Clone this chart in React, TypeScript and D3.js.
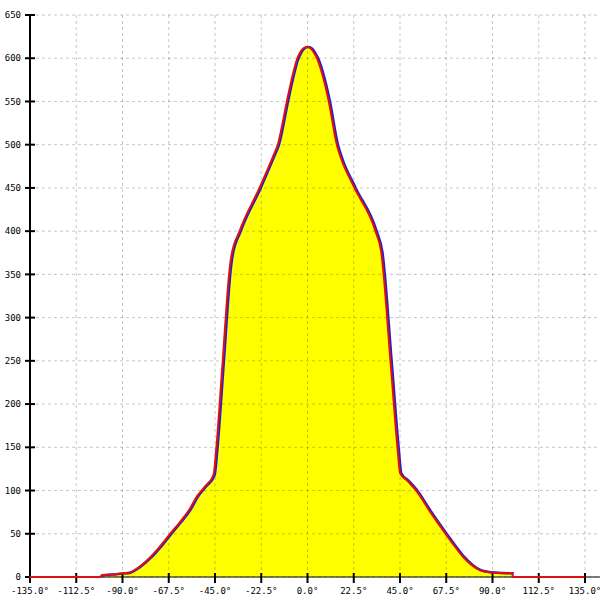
import React from "react";
import * as d3 from "d3";

const angles = [-100.5, -100, -95, -90, -86.5, -82, -76.6, -72, -66.9, -62, -57.2, -53.6, -49.9, -45.5, -44.2, -41, -37.7, -36.9, -32.8, -23.1, -16.6, -14.2, -9.8, -8, -6.5, -5, -3.5, -2, 0, 2, 3.5, 5, 6.5, 8.5, 10.6, 14.5, 16.6, 23.1, 33.3, 36.1, 40.6, 44, 45.3, 49, 53.4, 60, 67.7, 72, 75.8, 80, 84, 87.2, 92, 100];
const blueValues = [0, 2, 3, 4, 5, 11, 22, 34, 49, 63, 78, 93, 104, 118, 147, 250, 355, 370, 400, 450, 486, 500, 550, 570, 585, 598, 606, 611, 613, 611, 606, 599, 589, 572, 550, 500, 484, 450, 400, 376, 250, 150, 120, 111, 99, 75, 49, 35, 23.5, 14, 8, 6, 5, 4.3];
const redAngles = [-135, ...angles, 100.1, 135];
const redValues = [0, ...blueValues, 0, 0];

const xTicks = [-135, -112.5, -90, -67.5, -45, -22.5, 0, 22.5, 45, 67.5, 90, 112.5, 135];
const yTicks = [0, 50, 100, 150, 200, 250, 300, 350, 400, 450, 500, 550, 600, 650];

export default function App() {
  const W = 600, H = 600;
  const x = d3.scaleLinear().domain([-135, 135]).range([30, 585]);
  const y = d3.scaleLinear().domain([0, 650]).range([577, 15]);
  const blue = angles.map((a, i) => [a, blueValues[i]] as [number, number]);
  const red = redAngles.map((a, i) => [a, redValues[i]] as [number, number]);
  const line = d3.line<[number, number]>().x(d => x(d[0])).y(d => y(d[1])).curve(d3.curveMonotoneX);
  const area = d3.area<[number, number]>().x(d => x(d[0])).y0(y(0)).y1(d => y(d[1])).curve(d3.curveMonotoneX);
  const font = "'DejaVu Sans Mono', monospace";
  return (
    <svg width={W} height={H} style={{ position: "absolute", left: 0, top: 0, background: "#fff" }}>
      <path d={area(blue) || ""} fill="#ffff00" />
      {xTicks.map(t => (
        <line key={"gx" + t} x1={x(t)} x2={x(t)} y1={15} y2={577} stroke="#000" strokeOpacity={0.22} strokeDasharray="3,3" />
      ))}
      {yTicks.map(t => (
        <line key={"gy" + t} x1={30} x2={600} y1={y(t)} y2={y(t)} stroke="#000" strokeOpacity={0.22} strokeDasharray="3,3" />
      ))}
      <line x1={30} x2={30} y1={15} y2={577} stroke="#000" strokeWidth={2} />
      <line x1={30} x2={600} y1={577} y2={577} stroke="#000" strokeWidth={1} />
      {yTicks.map(t => (
        <g key={"yt" + t}>
          <line x1={25} x2={35} y1={y(t)} y2={y(t)} stroke="#000" strokeWidth={2} />
          <text x={21} y={y(t)} dy="0.35em" textAnchor="end" fontFamily={font} fontSize={9} fill="#000">{t}</text>
        </g>
      ))}
      {xTicks.map(t => (
        <g key={"xt" + t}>
          <line x1={x(t)} x2={x(t)} y1={573} y2={583} stroke="#000" strokeWidth={2} />
          <text x={x(t)} y={594} textAnchor="middle" fontFamily={font} fontSize={9} fill="#000">{t.toFixed(1) + "°"}</text>
        </g>
      ))}
      <path d={line(blue) || ""} fill="none" stroke="#2020d0" strokeWidth={2.5} transform="translate(0.7,0)" />
      <path d={line(red) || ""} fill="none" stroke="#e01010" strokeWidth={2} transform="translate(-0.5,0)" />
    </svg>
  );
}
